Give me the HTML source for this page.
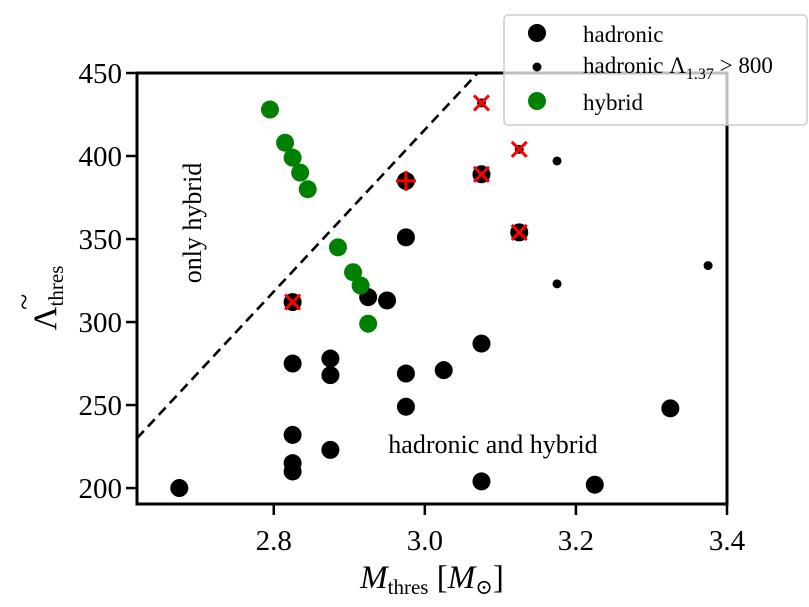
<!DOCTYPE html>
<html><head><meta charset="utf-8"><style>
html,body{margin:0;padding:0;background:#fff;width:809px;height:607px;overflow:hidden}
text{font-family:"Liberation Serif","DejaVu Serif",serif;fill:#000}
</style></head><body>
<svg id="chart" width="809" height="607" viewBox="0 0 809 607">
<g id="marks"></g>
<g id="axes"></g>
</svg>
<script>
const hadX=[2.675,2.825,2.825,2.825,2.825,2.825,2.875,2.875,2.875,2.925,2.95,2.975,2.975,2.975,2.975,3.025,3.075,3.075,3.075,3.125,3.225,3.325];
const hadY=[200,275,232,215,210,312,278,268,223,315,313,351,269,249,385,271,287,204,389,354,202,248];
const smallX=[3.175,3.175,3.375,3.075,3.125];
const smallY=[397,323,334,432,404];
const hybX=[2.795,2.815,2.825,2.835,2.845,2.885,2.905,2.915,2.925];
const hybY=[428,408,399,390,380,345,330,322,299];
const crossX=[2.825,3.075,3.125,3.075,3.125];
const crossY=[312,389,354,432,404];
const plusX=[2.975];
const plusY=[385];
const xTicks=[2.8,3.0,3.2,3.4];
const xTickLabels=["2.8","3.0","3.2","3.4"];
const yTicks=[200,250,300,350,400,450];
const lineX=[2.619,3.07];
const lineY=[230,450];
const X0=2.619,X1=3.4,Y0=190.4,Y1=450;
const L=137,R=727,T=73,B=504;
const sx=v=>L+(v-X0)/(X1-X0)*(R-L);
const sy=v=>B-(v-Y0)/(Y1-Y0)*(B-T);
const NS="http://www.w3.org/2000/svg";
const marks=document.getElementById('marks'),axes=document.getElementById('axes');
function mk(tag,attrs,parent){const e=document.createElementNS(NS,tag);for(const k in attrs)e.setAttribute(k,attrs[k]);parent.appendChild(e);return e;}
let dl=mk('line',{x1:sx(lineX[0]),y1:sy(lineY[0]),x2:sx(lineX[1]),y2:sy(lineY[1]),stroke:'#000','stroke-width':2.6,'stroke-dasharray':'10,6'},marks);


hadX.forEach((x,i)=>{const c=mk('circle',{cx:sx(x),cy:sy(hadY[i]),r:9,fill:'#000'},marks);

});
smallX.forEach((x,i)=>{const c=mk('circle',{cx:sx(x),cy:sy(smallY[i]),r:4.5,fill:'#000'},marks);

});
hybX.forEach((x,i)=>{const c=mk('circle',{cx:sx(x),cy:sy(hybY[i]),r:9,fill:'#008000'},marks);

});
crossX.forEach((x,i)=>{const cx=sx(x),cy=sy(crossY[i]),d=7.5;
const p=mk('path',{d:`M${cx-d},${cy-d}L${cx+d},${cy+d}M${cx-d},${cy+d}L${cx+d},${cy-d}`,stroke:'#f00','stroke-width':3,fill:'none'},marks);

});
plusX.forEach((x,i)=>{const cx=sx(x),cy=sy(plusY[i]),d=10;
const p=mk('path',{d:`M${cx-d},${cy}L${cx+d},${cy}M${cx},${cy-d}L${cx},${cy+d}`,stroke:'#f00','stroke-width':3,fill:'none'},marks);

});
const fr=mk('rect',{x:L,y:T,width:R-L,height:B-T,fill:'none',stroke:'#000','stroke-width':3},axes);


xTicks.forEach((v,i)=>{const x=sx(v);
mk('line',{x1:x,y1:B,x2:x,y2:B+11,stroke:'#000','stroke-width':2.5},axes);
const t=mk('text',{x:x,y:B+46,'font-size':29,'text-anchor':'middle'},axes);t.textContent=xTickLabels[i];

});
yTicks.forEach(v=>{const y=sy(v);
mk('line',{x1:L-11,y1:y,x2:L,y2:y,stroke:'#000','stroke-width':2.5},axes);
const t=mk('text',{x:L-15,y:y+10,'font-size':29,'text-anchor':'end'},axes);t.textContent=String(v);

});
</script>
<svg style="position:absolute;left:0;top:0" width="809" height="607">
<text x="432" y="588" font-size="33" text-anchor="middle" font-style="italic">M<tspan font-size="21" font-style="normal" dy="6">thres</tspan><tspan dy="-6" font-style="normal"> [</tspan>M<tspan font-size="21" dy="6">⊙</tspan><tspan dy="-6" font-style="normal">]</tspan></text>
<g transform="translate(56,290) rotate(-90)">
<text font-size="33" text-anchor="middle" x="-8">Λ<tspan font-size="21" dy="7">thres</tspan></text>
<text font-size="30" x="-20" y="-22">~</text>
</g>
<text transform="translate(201,223) rotate(-90)" font-size="26" text-anchor="middle">only hybrid</text>
<text x="493" y="453" font-size="26" text-anchor="middle">hadronic and hybrid</text>
<g>
<rect x="504" y="15" width="303" height="110" rx="4" fill="#fff" fill-opacity="0.75" stroke="#ccc" stroke-width="1.5"/>
<circle cx="537" cy="33" r="9" fill="#000"/>
<text x="583" y="42" font-size="23">hadronic</text>
<circle cx="537" cy="67" r="4.5" fill="#000"/>
<text x="583" y="73" font-size="23">hadronic Λ<tspan font-size="16" dy="6">1.37</tspan><tspan dy="-6"> &gt; 800</tspan></text>
<circle cx="537" cy="101" r="9" fill="#008000"/>
<text x="583" y="110" font-size="23">hybrid</text>
</g>
</svg>
</body></html>
